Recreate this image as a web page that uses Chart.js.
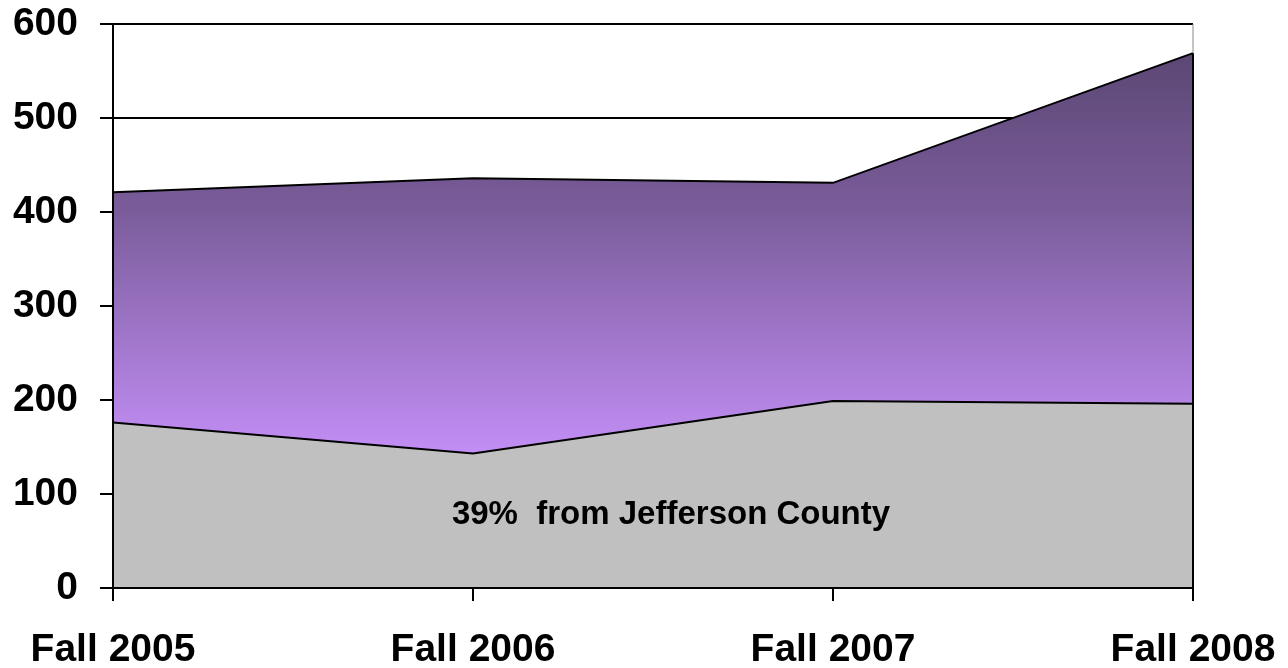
<!DOCTYPE html>
<html>
<head>
<meta charset="utf-8">
<script src="https://cdn.jsdelivr.net/npm/chart.js@4/dist/chart.umd.min.js"></script>
<style>
  html, body { margin: 0; padding: 0; background: #fff; }
  #wrap { width: 1288px; height: 668px; }
</style>
</head>
<body>
<div id="wrap"><canvas id="chart" width="1288" height="668"></canvas></div>
<script>
// data
const categories = ['Fall 2005', 'Fall 2006', 'Fall 2007', 'Fall 2008'];
const jeffersonValues = [176, 143, 199, 196];
const otherValues = [245, 293, 232, 373];
const yTicks = [0, 100, 200, 300, 400, 500, 600];
const noteText = '39%  from Jefferson County';
const notePos = [1.55, 78]; // category index, value

const FONT = "'Liberation Sans', Arial, Helvetica, sans-serif";

// extra lines round the plot and the note inside the grey area
const framePlugin = {
    id: 'frame',
    afterDatasetsDraw(chart) {
        const { ctx, chartArea: a, scales } = chart;
        const topMeta = chart.getDatasetMeta(1);
        const lastPt = topMeta.data[topMeta.data.length - 1];
        ctx.save();
        // right edge above the area
        ctx.strokeStyle = '#8a8a8a';
        ctx.lineWidth = 1;
        ctx.beginPath();
        ctx.moveTo(a.right, a.top);
        ctx.lineTo(a.right, lastPt.y);
        ctx.stroke();
        // right edge of the area
        ctx.strokeStyle = '#000';
        ctx.lineWidth = 2;
        ctx.beginPath();
        ctx.moveTo(a.right, lastPt.y);
        ctx.lineTo(a.right, a.bottom);
        ctx.stroke();
        // left axis line and bottom axis line
        ctx.beginPath();
        ctx.moveTo(a.left, a.top - 1);
        ctx.lineTo(a.left, a.bottom);
        ctx.lineTo(a.right, a.bottom);
        ctx.stroke();
        // note
        ctx.fillStyle = '#000';
        ctx.font = 'bold 33px ' + FONT;
        ctx.textAlign = 'center';
        ctx.textBaseline = 'middle';
        ctx.fillText(noteText, scales.x.getPixelForValue(notePos[0]), scales.y.getPixelForValue(notePos[1]));
        ctx.restore();
    }
};

function purpleFill(context) {
    const a = context.chart.chartArea;
    if (!a) return '#9b74c8';
    const g = context.chart.ctx.createLinearGradient(0, a.top, 0, a.bottom);
    g.addColorStop(0.05, '#5b4774');
    g.addColorStop(0.33, '#7a5c9a');
    g.addColorStop(0.76, '#c28ef5');
    g.addColorStop(1, '#c69cf2');
    return g;
}

new Chart(document.getElementById('chart'), {
    type: 'line',
    data: {
        labels: categories,
        datasets: [
            {
                label: 'Jefferson County',
                data: jeffersonValues,
                backgroundColor: '#c0c0c0',
                borderColor: '#000',
                borderWidth: 2,
                fill: 'origin',
                tension: 0,
                pointRadius: 0
            },
            {
                label: 'Other',
                data: otherValues,
                backgroundColor: purpleFill,
                borderColor: '#000',
                borderWidth: 2,
                fill: '-1',
                tension: 0,
                pointRadius: 0
            }
        ]
    },
    options: {
        responsive: false,
        animation: false,
        layout: { padding: { top: 24, right: 95, left: 0, bottom: 0 } },
        plugins: {
            legend: { display: false },
            tooltip: { enabled: false }
        },
        scales: {
            x: {
                offset: false,
                grid: { display: true, drawOnChartArea: false, tickLength: 13, color: '#000', lineWidth: 2 },
                border: { display: true, color: '#000', width: 2 },
                ticks: {
                    color: '#000',
                    padding: 26,
                    maxRotation: 0,
                    font: { family: FONT, size: 39, weight: 'bold' }
                },
                afterFit(scale) {
                    scale.height = 80;
                    scale.paddingLeft = 0;
                    scale.paddingRight = 0;
                }
            },
            y: {
                stacked: true,
                min: 0,
                max: 600,
                afterBuildTicks(scale) { scale.ticks = yTicks.map(v => ({ value: v })); },
                grid: { color: '#000', lineWidth: 2, tickLength: 13 },
                border: { display: true, color: '#000', width: 2 },
                ticks: {
                    color: '#000',
                    padding: 22,
                    font: { family: FONT, size: 39, weight: 'bold' }
                },
                afterFit(scale) {
                    scale.width = 113;
                    scale.paddingTop = 0;
                    scale.paddingBottom = 0;
                }
            }
        }
    },
    plugins: [framePlugin]
});
</script>
</body>
</html>
